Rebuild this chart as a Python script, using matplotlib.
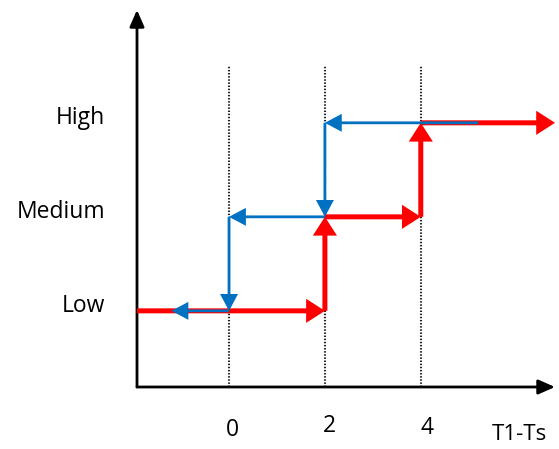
import matplotlib.pyplot as plt

# ---------------- DATA ----------------
levels = ["Low", "Medium", "High"]
level_y = [1, 2, 3]

xtick_vals = [0, 2, 4]
xtick_labels = ["0", "2", "4"]

# rising path (red): steps up at 2 and 4
red_x = [-1.92, 2, 2, 4, 4, 6.8]
red_y = [1, 1, 2, 2, 3, 3]

# falling path (blue): steps down at 2 and 0
blue_x = [5.2, 2, 2, 0, 0, -1.2]
blue_y = [3, 3, 2, 2, 1, 1]

XMIN, XMAX = -1.92, 6.8
YMIN, YMAX = 0.19, 4.2

RED = "#ff0000"
BLUE = "#0070c0"
FONT = "Open Sans"
FS = 16.5

# ---------------- PLOT ----------------
W, H = 559, 449
fig = plt.figure(figsize=(W / 100, H / 100), dpi=100)
ax = fig.add_axes([137 / W, (H - 387) / H, (555 - 137) / W, (387 - 10) / H])
ax.set_xlim(XMIN, XMAX)
ax.set_ylim(YMIN, YMAX)
ax.axis("off")

# axes with arrow heads
for end in [(1, 0), (0, 1)]:
    ax.annotate("", xy=end, xytext=(0, 0), xycoords="axes fraction",
                arrowprops=dict(arrowstyle="-|>,head_length=0.5,head_width=0.22",
                                mutation_scale=20, lw=2, color="black",
                                shrinkA=0, shrinkB=0))

# dotted threshold lines
for xv in xtick_vals:
    ax.plot([xv, xv], [YMIN, 3.6], color="#222222", lw=1.5, ls=(0, (0.7, 0.8)), zorder=1)


def draw_path(xs, ys, color, lw, hl, hw, z):
    for i in range(len(xs) - 1):
        ax.annotate("", xy=(xs[i + 1], ys[i + 1]), xytext=(xs[i], ys[i]),
                    arrowprops=dict(arrowstyle=f"-|>,head_length={hl},head_width={hw}",
                                    mutation_scale=20, lw=lw, color=color,
                                    shrinkA=0, shrinkB=0, joinstyle="miter",
                                    capstyle="butt"),
                    zorder=z)


draw_path(red_x, red_y, RED, 3.6, 0.42, 0.27, 3)
draw_path(blue_x, blue_y, BLUE, 2.0, 0.45, 0.24, 4)

# labels
for lab, yv in zip(levels, level_y):
    ax.text(-2.59, yv + 0.05, lab, ha="right", va="center", fontsize=FS,
            family=FONT, clip_on=False)

tick_offsets = [0.08, 0.1, 0.14]
tick_y = [-0.27, -0.22, -0.25]
for xv, lab, dx, dy in zip(xtick_vals, xtick_labels, tick_offsets, tick_y):
    ax.text(xv + dx, dy, lab, ha="center", va="center", fontsize=FS,
            family=FONT, clip_on=False)

ax.text(6.05, -0.31, "T1-Ts", ha="center", va="center", fontsize=16,
        family=FONT, clip_on=False)

fig.savefig("out.png", dpi=100)
